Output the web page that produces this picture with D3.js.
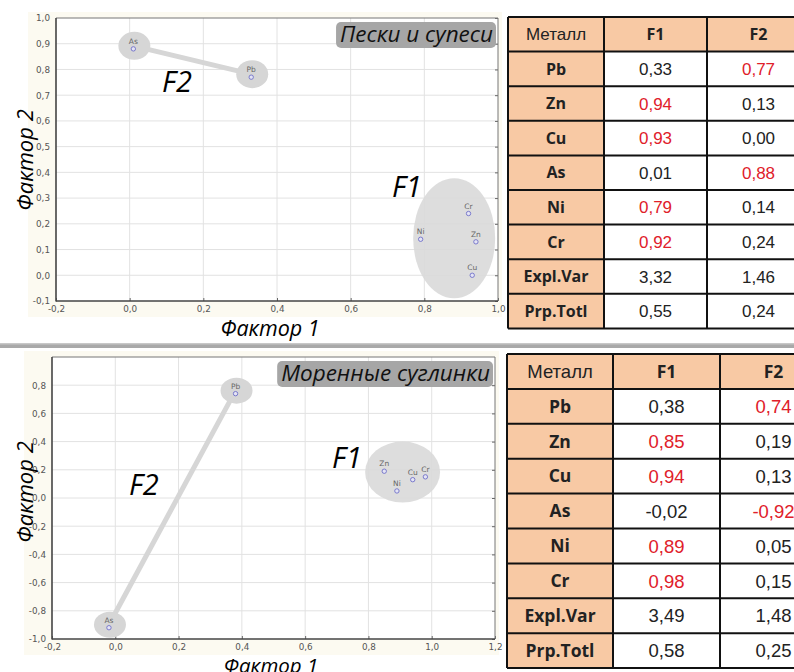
<!DOCTYPE html>
<html><head><meta charset="utf-8">
<script src="https://cdn.jsdelivr.net/npm/d3@7"></script>
<style>
body{margin:0;background:#fff;}
svg{display:block;}
</style></head>
<body>
<svg id="c" width="794" height="672"></svg>
<script>
// ---------- DATA ----------
const metals = ["Pb", "Zn", "Cu", "As", "Ni", "Cr"];
const sandF1 = [0.33, 0.94, 0.93, 0.01, 0.79, 0.92];
const sandF2 = [0.77, 0.13, 0.00, 0.88, 0.14, 0.24];
const sandExplVar = [3.32, 1.46];
const sandPrpTotl = [0.55, 0.24];
const moraineF1 = [0.38, 0.85, 0.94, -0.02, 0.89, 0.98];
const moraineF2 = [0.74, 0.19, 0.13, -0.92, 0.05, 0.15];
const moraineExplVar = [3.49, 1.48];
const morainePrpTotl = [0.58, 0.25];
const sandXTicks = [-0.2, 0.0, 0.2, 0.4, 0.6, 0.8, 1.0];
const sandYTicks = [-0.1, 0.0, 0.1, 0.2, 0.3, 0.4, 0.5, 0.6, 0.7, 0.8, 0.9, 1.0];
const moraineXTicks = [-0.2, 0.0, 0.2, 0.4, 0.6, 0.8, 1.0, 1.2];
const moraineYTicks = [-1.0, -0.8, -0.6, -0.4, -0.2, 0.0, 0.2, 0.4, 0.6, 0.8];
const tableHeader = ["Металл", "F1", "F2"];
const statLabels = ["Expl.Var", "Prp.Totl"];
const titles = ["Пески и супеси", "Моренные суглинки"];
const axisTitles = ["Фактор 1", "Фактор 2"];
const groupLabels = ["F1", "F2"];

// ---------- LAYOUT ----------
const svg = d3.select("#c");
const fixMinus = s => s.replace(/\u2212/g, "-");
const fmt = v => fixMinus(d3.format(".2f")(v)).replace(".", ",");
const fmtTick = v => fixMinus(d3.format(".1f")(v)).replace(".", ",");

const panels = [
  { f1: sandF1, f2: sandF2, ev: sandExplVar, pt: sandPrpTotl,
    xt: sandXTicks, yt: sandYTicks, xd: [-0.2, 1.0], yd: [-0.1, 1.0],
    box: {l: 56, t: 18, r: 498, b: 301}, title: titles[0],
    f1Ell: {cx: 0.881, cy: 0.144, rx: 41, ry: 60},
    halo: {rx: 16, ry: 14},
    f1Lab: [0.712, 0.303], f2Lab: [0.088, 0.712],
    xTitleX: 270, xTitleY: 336, xTitleFs: 21.5, yTitleX: 33, yTitleY: 160,
    table: {x: [508, 604, 707, 810], y0: 17, h: 34.6, fs: 17},
    titleFs: 22.5 },
  { f1: moraineF1, f2: moraineF2, ev: moraineExplVar, pt: morainePrpTotl,
    xt: moraineXTicks, yt: moraineYTicks, xd: [-0.2, 1.2], yd: [-1.0, 1.0],
    box: {l: 52, t: 357, r: 495, b: 639}, title: titles[1],
    f1Ell: {cx: 0.908, cy: 0.184, rx: 37.5, ry: 30.5},
    halo: {rx: 16, ry: 13},
    f1Lab: [0.685, 0.213], f2Lab: [0.043, 0.021],
    xTitleX: 271, xTitleY: 672.5, xTitleFs: 20.5, yTitleX: 33, yTitleY: 492,
    table: {x: [507, 613, 720, 827], y0: 354, h: 34.9, fs: 18.5},
    titleFs: 22.5 }
];

// separator bar
svg.append("rect").attr("x", 0).attr("y", 343).attr("width", 794).attr("height", 5).attr("fill", "#a9a9a9");
svg.append("rect").attr("x", 0).attr("y", 343).attr("width", 794).attr("height", 1.5).attr("fill", "#c8c8c8");

panels.forEach(p => {
  const B = p.box;
  const x = d3.scaleLinear().domain(p.xd).range([B.l, B.r]);
  const y = d3.scaleLinear().domain(p.yd).range([B.b, B.t]);
  const g = svg.append("g");

  // cream axis backdrop (left and below the plot)
  g.append("rect").attr("x", B.l - 28).attr("y", B.t - 6).attr("width", B.r - B.l + 32).attr("height", B.b - B.t + 22)
    .attr("fill", "#fcfaf1");
  g.append("rect").attr("x", B.l).attr("y", B.t).attr("width", B.r - B.l).attr("height", B.b - B.t).attr("fill", "#fff");

  // grid
  g.append("g").selectAll("line").data(p.xt.slice(1, -1)).join("line")
    .attr("x1", d => x(d)).attr("x2", d => x(d)).attr("y1", B.t).attr("y2", B.b)
    .attr("stroke", "#e2e2e2").attr("stroke-width", 1);
  g.append("g").selectAll("line").data(p.yt.filter(v => v > p.yd[0] + 1e-9 && v < p.yd[1] - 1e-9)).join("line")
    .attr("x1", B.l).attr("x2", B.r).attr("y1", d => y(d)).attr("y2", d => y(d))
    .attr("stroke", "#e2e2e2").attr("stroke-width", 1);

  // axes
  const xAxis = d3.axisBottom(x).tickValues(p.xt).tickFormat(fmtTick).tickSizeInner(-3).tickSizeOuter(0).tickPadding(6);
  const yAxis = d3.axisLeft(y).tickValues(p.yt).tickFormat(fmtTick).tickSizeInner(0).tickSizeOuter(0).tickPadding(6);
  const yAxisR = d3.axisRight(y).tickValues(p.yt).tickFormat("").tickSizeInner(-3).tickSizeOuter(0);
  const gx = g.append("g").attr("transform", `translate(0,${B.b})`).call(xAxis);
  const gy = g.append("g").attr("transform", `translate(${B.l},0)`).call(yAxis);
  const gyr = g.append("g").attr("transform", `translate(${B.r},0)`).call(yAxisR);
  [gx, gy, gyr].forEach(a => {
    a.select(".domain").remove();
    a.selectAll("line").attr("stroke", "#666");
    a.selectAll("text").attr("fill", "#555").style("font-family", "'DejaVu Sans', sans-serif").style("font-size", "8.8px");
  });
  gx.selectAll("text").attr("dy", "0.6em");
  // frame
  g.append("line").attr("x1", B.l).attr("x2", B.r).attr("y1", B.t).attr("y2", B.t).attr("stroke", "#777").attr("stroke-width", 1);
  g.append("line").attr("x1", B.r).attr("x2", B.r).attr("y1", B.t).attr("y2", B.b).attr("stroke", "#777").attr("stroke-width", 1);
  g.append("line").attr("x1", B.l).attr("x2", B.l).attr("y1", B.t).attr("y2", B.b + 0.5).attr("stroke", "#444").attr("stroke-width", 1.6);
  g.append("line").attr("x1", B.l).attr("x2", B.r).attr("y1", B.b).attr("y2", B.b).attr("stroke", "#444").attr("stroke-width", 1.6);

  // F1 group ellipse
  g.append("ellipse").attr("cx", x(p.f1Ell.cx)).attr("cy", y(p.f1Ell.cy))
    .attr("rx", p.f1Ell.rx).attr("ry", p.f1Ell.ry).attr("fill", "#d9d9d9").attr("opacity", 0.9);

  // F2 link between Pb and As
  const iPb = metals.indexOf("Pb"), iAs = metals.indexOf("As");
  g.append("line").attr("x1", x(p.f1[iAs])).attr("y1", y(p.f2[iAs]) - 3)
    .attr("x2", x(p.f1[iPb])).attr("y2", y(p.f2[iPb]) - 3)
    .attr("stroke", "#d6d6d6").attr("stroke-width", 5).attr("stroke-linecap", "round");
  g.selectAll(".halo").data([iPb, iAs]).join("ellipse")
    .attr("cx", i => x(p.f1[i]) + 1).attr("cy", i => y(p.f2[i]) - 3)
    .attr("rx", p.halo.rx).attr("ry", p.halo.ry).attr("fill", "#d6d6d6");

  // points
  const pts = metals.map((m, i) => ({m, a: p.f1[i], b: p.f2[i]}));
  g.selectAll(".pt").data(pts).join("circle")
    .attr("cx", d => x(d.a)).attr("cy", d => y(d.b)).attr("r", 2.2)
    .attr("fill", "#e4e4f4").attr("stroke", "#6f6fc8").attr("stroke-width", 0.9);
  g.selectAll(".lab").data(pts).join("text")
    .attr("x", d => x(d.a)).attr("y", d => y(d.b) - 5)
    .attr("text-anchor", "middle").attr("fill", "#666")
    .style("font-family", "'DejaVu Sans', sans-serif").style("font-size", "7.5px").text(d => d.m);

  // group labels
  const labStyle = s => s.attr("fill", "#000").style("font-family", "'Open Sans', sans-serif")
      .style("font-style", "italic").style("font-weight", "500").style("font-size", "29px");
  g.append("text").attr("x", x(p.f1Lab[0])).attr("y", y(p.f1Lab[1])).call(labStyle).text(groupLabels[0]);
  g.append("text").attr("x", x(p.f2Lab[0])).attr("y", y(p.f2Lab[1])).call(labStyle).text(groupLabels[1]);

  // title box
  const tt = g.append("text").attr("x", B.r - 5).attr("y", B.t + 24).attr("text-anchor", "end")
    .attr("fill", "#111").style("font-family", "'Open Sans', sans-serif").style("font-style", "italic")
    .style("font-size", p.titleFs + "px").text(p.title);
  const bb = tt.node().getBBox();
  g.insert("rect", function(){ return tt.node(); })
    .attr("x", bb.x - 4).attr("y", B.t + 4).attr("width", bb.width + 7).attr("height", 26)
    .attr("rx", 5).attr("fill", "#a6a6a6");

  // axis titles
  const axStyle = s => s.attr("fill", "#000").style("font-family", "'Open Sans', sans-serif")
      .style("font-style", "italic").attr("text-anchor", "middle");
  g.append("text").attr("x", p.xTitleX).attr("y", p.xTitleY).call(axStyle)
    .style("font-size", p.xTitleFs + "px").text(axisTitles[0]);
  g.append("text").attr("transform", `translate(${p.yTitleX},${p.yTitleY}) rotate(-90)`).call(axStyle)
    .style("font-size", "22px").text(axisTitles[1]);

  // table
  const T = p.table;
  const rows = [[tableHeader[0], tableHeader[1], tableHeader[2], true]]
    .concat(metals.map((m, i) => [m, p.f1[i], p.f2[i], false]))
    .concat([[statLabels[0], p.ev[0], p.ev[1], false], [statLabels[1], p.pt[0], p.pt[1], false]]);
  const tg = svg.append("g");
  rows.forEach((r, ri) => {
    const y0 = T.y0 + ri * T.h;
    for (let c = 0; c < 3; c++) {
      const x0 = T.x[c], x1 = T.x[c + 1];
      const orange = r[3] || c === 0;
      tg.append("rect").attr("x", x0).attr("y", y0).attr("width", x1 - x0).attr("height", T.h)
        .attr("fill", orange ? "#f8c9a4" : "#fff");
      let txt, color = "#222", bold = false, fam = "'Liberation Sans', Arial, sans-serif", fs = T.fs;
      if (r[3]) {
        txt = r[c];
        if (c > 0) { bold = true; fam = "'Open Sans', sans-serif"; fs = T.fs - 1; }
      } else if (c === 0) {
        txt = r[0]; bold = true; fam = "'Open Sans', sans-serif"; fs = T.fs - 1;
      } else {
        txt = fmt(r[c]);
        if (ri <= metals.length && Math.abs(r[c]) >= 0.7) color = "#e0202a";
      }
      tg.append("text").attr("x", (x0 + x1) / 2).attr("y", y0 + T.h / 2).attr("dy", "0.36em")
        .attr("text-anchor", "middle").attr("fill", color)
        .style("font-family", fam).style("font-weight", bold ? "700" : "400").style("font-size", fs + "px")
        .text(txt);
    }
  });
  // grid lines of table
  for (let ri = 0; ri <= rows.length; ri++) {
    tg.append("line").attr("x1", T.x[0]).attr("x2", T.x[3]).attr("y1", T.y0 + ri * T.h).attr("y2", T.y0 + ri * T.h)
      .attr("stroke", "#111").attr("stroke-width", 2);
  }
  T.x.forEach(xx => tg.append("line").attr("x1", xx).attr("x2", xx).attr("y1", T.y0).attr("y2", T.y0 + rows.length * T.h)
      .attr("stroke", "#111").attr("stroke-width", 2));
});
</script>
</body></html>
